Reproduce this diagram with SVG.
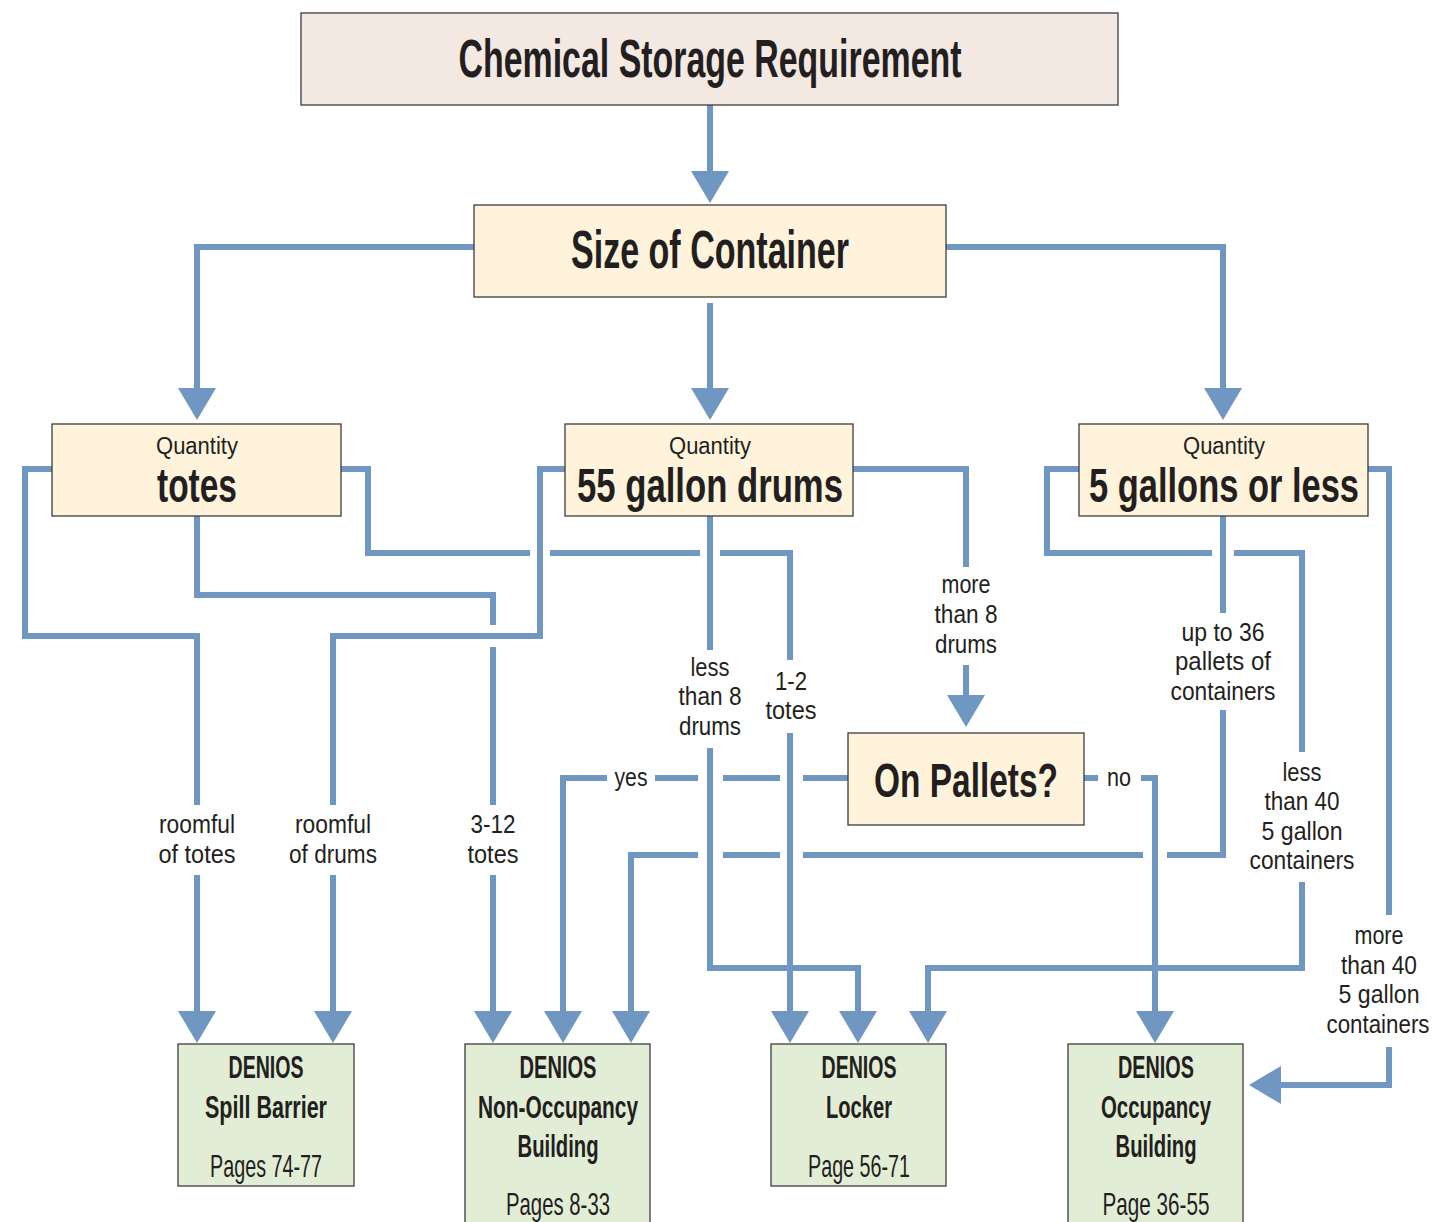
<svg xmlns="http://www.w3.org/2000/svg" width="1433" height="1222" viewBox="0 0 1433 1222">
<style>
.box{stroke:#3c3c3c;stroke-width:1.3}
.pink{fill:#f3e8e2}
.yel{fill:#fff3dc}
.grn{fill:#e2edd6}
.ln{fill:none;stroke:#7096c2;stroke-width:6;stroke-linejoin:miter;stroke-linecap:butt}
.arr{fill:none;stroke:#7096c2;stroke-width:6;marker-end:url(#ah)}
text{font-family:"Liberation Sans Narrow","Liberation Sans",Arial,sans-serif;fill:#231f20;text-anchor:middle}
.big{font-size:53px;font-weight:bold}
.mid{font-size:48px;font-weight:bold}
.q{font-size:23px}
.lbl{font-size:25px}
.bt{font-size:32px;font-weight:bold}
.pg{font-size:32px}
</style>
<defs>
<marker id="ah" viewBox="0 0 32 38" refX="0" refY="19" markerWidth="32" markerHeight="38" markerUnits="userSpaceOnUse" orient="auto">
<path d="M0,0 L32,19 L0,38 Z" fill="#7096c2"/>
</marker>
</defs>

<g id="connectors">
<path class="arr" d="M710,105 V171"/>
<path class="arr" d="M474,247 H197 V388"/>
<path class="arr" d="M710,303 V388"/>
<path class="arr" d="M946,247 H1223 V388"/>
<path class="ln" d="M52,469 H25 V636 H197 V805"/>
<path class="arr" d="M197,875 V1011"/>
<path class="ln" d="M197,516 V595 H493 V625"/>
<path class="ln" d="M493,647 V805"/>
<path class="arr" d="M493,875 V1011"/>
<path class="ln" d="M341,469 H368 V553 H530"/>
<path class="ln" d="M550,553 H700"/>
<path class="ln" d="M720,553 H790 V660"/>
<path class="arr" d="M790,733 V1011"/>
<path class="ln" d="M565,469 H540 V636 H333 V805"/>
<path class="arr" d="M333,875 V1011"/>
<path class="ln" d="M710,516 V650"/>
<path class="arr" d="M710,748 V968 H858 V1011"/>
<path class="ln" d="M853,469 H966 V567"/>
<path class="arr" d="M966,665 V695"/>
<path class="ln" d="M848,778 H803"/>
<path class="ln" d="M780,778 H723"/>
<path class="ln" d="M698,778 H655"/>
<path class="arr" d="M607,778 H563 V1011"/>
<path class="ln" d="M1084,778 H1098"/>
<path class="arr" d="M1141,778 H1155 V1011"/>
<path class="ln" d="M1079,469 H1047 V553 H1212"/>
<path class="ln" d="M1234,553 H1302 V752"/>
<path class="arr" d="M1302,882 V968 H928 V1011"/>
<path class="ln" d="M1223,516 V613"/>
<path class="ln" d="M1223,710 V855 H1167"/>
<path class="ln" d="M1143,855 H803"/>
<path class="ln" d="M780,855 H723"/>
<path class="arr" d="M698,855 H631 V1011"/>
<path class="ln" d="M1368,469 H1389 V915"/>
<path class="arr" d="M1389,1047 V1085 H1281"/>
</g>

<g id="labels">
<text class="lbl" x="197" y="833" textLength="76" lengthAdjust="spacingAndGlyphs">roomful</text>
<text class="lbl" x="197" y="863" textLength="77" lengthAdjust="spacingAndGlyphs">of totes</text>
<text class="lbl" x="333" y="833" textLength="76" lengthAdjust="spacingAndGlyphs">roomful</text>
<text class="lbl" x="333" y="863" textLength="88" lengthAdjust="spacingAndGlyphs">of drums</text>
<text class="lbl" x="493" y="833" textLength="45" lengthAdjust="spacingAndGlyphs">3-12</text>
<text class="lbl" x="493" y="863" textLength="51" lengthAdjust="spacingAndGlyphs">totes</text>
<text class="lbl" x="710" y="676" textLength="39" lengthAdjust="spacingAndGlyphs">less</text>
<text class="lbl" x="710" y="705" textLength="63" lengthAdjust="spacingAndGlyphs">than 8</text>
<text class="lbl" x="710" y="735" textLength="62" lengthAdjust="spacingAndGlyphs">drums</text>
<text class="lbl" x="791" y="690" textLength="32" lengthAdjust="spacingAndGlyphs">1-2</text>
<text class="lbl" x="791" y="719" textLength="51" lengthAdjust="spacingAndGlyphs">totes</text>
<text class="lbl" x="966" y="593" textLength="49" lengthAdjust="spacingAndGlyphs">more</text>
<text class="lbl" x="966" y="623" textLength="63" lengthAdjust="spacingAndGlyphs">than 8</text>
<text class="lbl" x="966" y="653" textLength="62" lengthAdjust="spacingAndGlyphs">drums</text>
<text class="lbl" x="1223" y="641" textLength="83" lengthAdjust="spacingAndGlyphs">up to 36</text>
<text class="lbl" x="1223" y="670" textLength="96" lengthAdjust="spacingAndGlyphs">pallets of</text>
<text class="lbl" x="1223" y="700" textLength="105" lengthAdjust="spacingAndGlyphs">containers</text>
<text class="lbl" x="1302" y="781" textLength="39" lengthAdjust="spacingAndGlyphs">less</text>
<text class="lbl" x="1302" y="810" textLength="75" lengthAdjust="spacingAndGlyphs">than 40</text>
<text class="lbl" x="1302" y="840" textLength="81" lengthAdjust="spacingAndGlyphs">5 gallon</text>
<text class="lbl" x="1302" y="869" textLength="105" lengthAdjust="spacingAndGlyphs">containers</text>
<text class="lbl" x="1379" y="944" textLength="49" lengthAdjust="spacingAndGlyphs">more</text>
<text class="lbl" x="1379" y="974" textLength="76" lengthAdjust="spacingAndGlyphs">than 40</text>
<text class="lbl" x="1379" y="1003" textLength="81" lengthAdjust="spacingAndGlyphs">5 gallon</text>
<text class="lbl" x="1378" y="1033" textLength="103" lengthAdjust="spacingAndGlyphs">containers</text>
<text class="lbl" x="631" y="786" textLength="33" lengthAdjust="spacingAndGlyphs">yes</text>
<text class="lbl" x="1119" y="786" textLength="24" lengthAdjust="spacingAndGlyphs">no</text>
</g>

<g id="n-requirement">
<rect class="box pink" x="301" y="13" width="817" height="92"/>
<text class="big" x="710" y="77" textLength="503" lengthAdjust="spacingAndGlyphs">Chemical Storage Requirement</text>
</g>
<g id="n-size">
<rect class="box yel" x="474" y="205" width="472" height="92"/>
<text class="big" x="710" y="268" textLength="278" lengthAdjust="spacingAndGlyphs">Size of Container</text>
</g>
<g id="n-totes">
<rect class="box yel" x="52" y="424" width="289" height="92"/>
<text class="q" x="197" y="454" textLength="82" lengthAdjust="spacingAndGlyphs">Quantity</text>
<text class="mid" x="197" y="502" textLength="80" lengthAdjust="spacingAndGlyphs">totes</text>
</g>
<g id="n-drums">
<rect class="box yel" x="565" y="424" width="288" height="92"/>
<text class="q" x="710" y="454" textLength="82" lengthAdjust="spacingAndGlyphs">Quantity</text>
<text class="mid" x="710" y="502" textLength="266" lengthAdjust="spacingAndGlyphs">55 gallon drums</text>
</g>
<g id="n-5gal">
<rect class="box yel" x="1079" y="424" width="289" height="92"/>
<text class="q" x="1224" y="454" textLength="82" lengthAdjust="spacingAndGlyphs">Quantity</text>
<text class="mid" x="1224" y="502" textLength="270" lengthAdjust="spacingAndGlyphs">5 gallons or less</text>
</g>
<g id="n-pallets">
<rect class="box yel" x="848" y="733" width="236" height="92"/>
<text class="mid" x="966" y="797" textLength="184" lengthAdjust="spacingAndGlyphs">On Pallets?</text>
</g>
<g id="n-spill">
<rect class="box grn" x="178" y="1044" width="176" height="142"/>
<text class="bt" x="266" y="1078" textLength="75" lengthAdjust="spacingAndGlyphs">DENIOS</text>
<text class="bt" x="266" y="1118" textLength="122" lengthAdjust="spacingAndGlyphs">Spill Barrier</text>
<text class="pg" x="266" y="1177" textLength="112" lengthAdjust="spacingAndGlyphs">Pages 74-77</text>
</g>
<g id="n-nonocc">
<rect class="box grn" x="465" y="1044" width="185" height="190"/>
<text class="bt" x="558" y="1078" textLength="77" lengthAdjust="spacingAndGlyphs">DENIOS</text>
<text class="bt" x="558" y="1118" textLength="160" lengthAdjust="spacingAndGlyphs">Non-Occupancy</text>
<text class="bt" x="558" y="1157" textLength="81" lengthAdjust="spacingAndGlyphs">Building</text>
<text class="pg" x="558" y="1215" textLength="104" lengthAdjust="spacingAndGlyphs">Pages 8-33</text>
</g>
<g id="n-locker">
<rect class="box grn" x="771" y="1044" width="175" height="142"/>
<text class="bt" x="859" y="1078" textLength="75" lengthAdjust="spacingAndGlyphs">DENIOS</text>
<text class="bt" x="859" y="1118" textLength="66" lengthAdjust="spacingAndGlyphs">Locker</text>
<text class="pg" x="859" y="1177" textLength="102" lengthAdjust="spacingAndGlyphs">Page 56-71</text>
</g>
<g id="n-occ">
<rect class="box grn" x="1068" y="1044" width="175" height="190"/>
<text class="bt" x="1156" y="1078" textLength="76" lengthAdjust="spacingAndGlyphs">DENIOS</text>
<text class="bt" x="1156" y="1118" textLength="110" lengthAdjust="spacingAndGlyphs">Occupancy</text>
<text class="bt" x="1156" y="1157" textLength="81" lengthAdjust="spacingAndGlyphs">Building</text>
<text class="pg" x="1156" y="1215" textLength="107" lengthAdjust="spacingAndGlyphs">Page 36-55</text>
</g>
</svg>
